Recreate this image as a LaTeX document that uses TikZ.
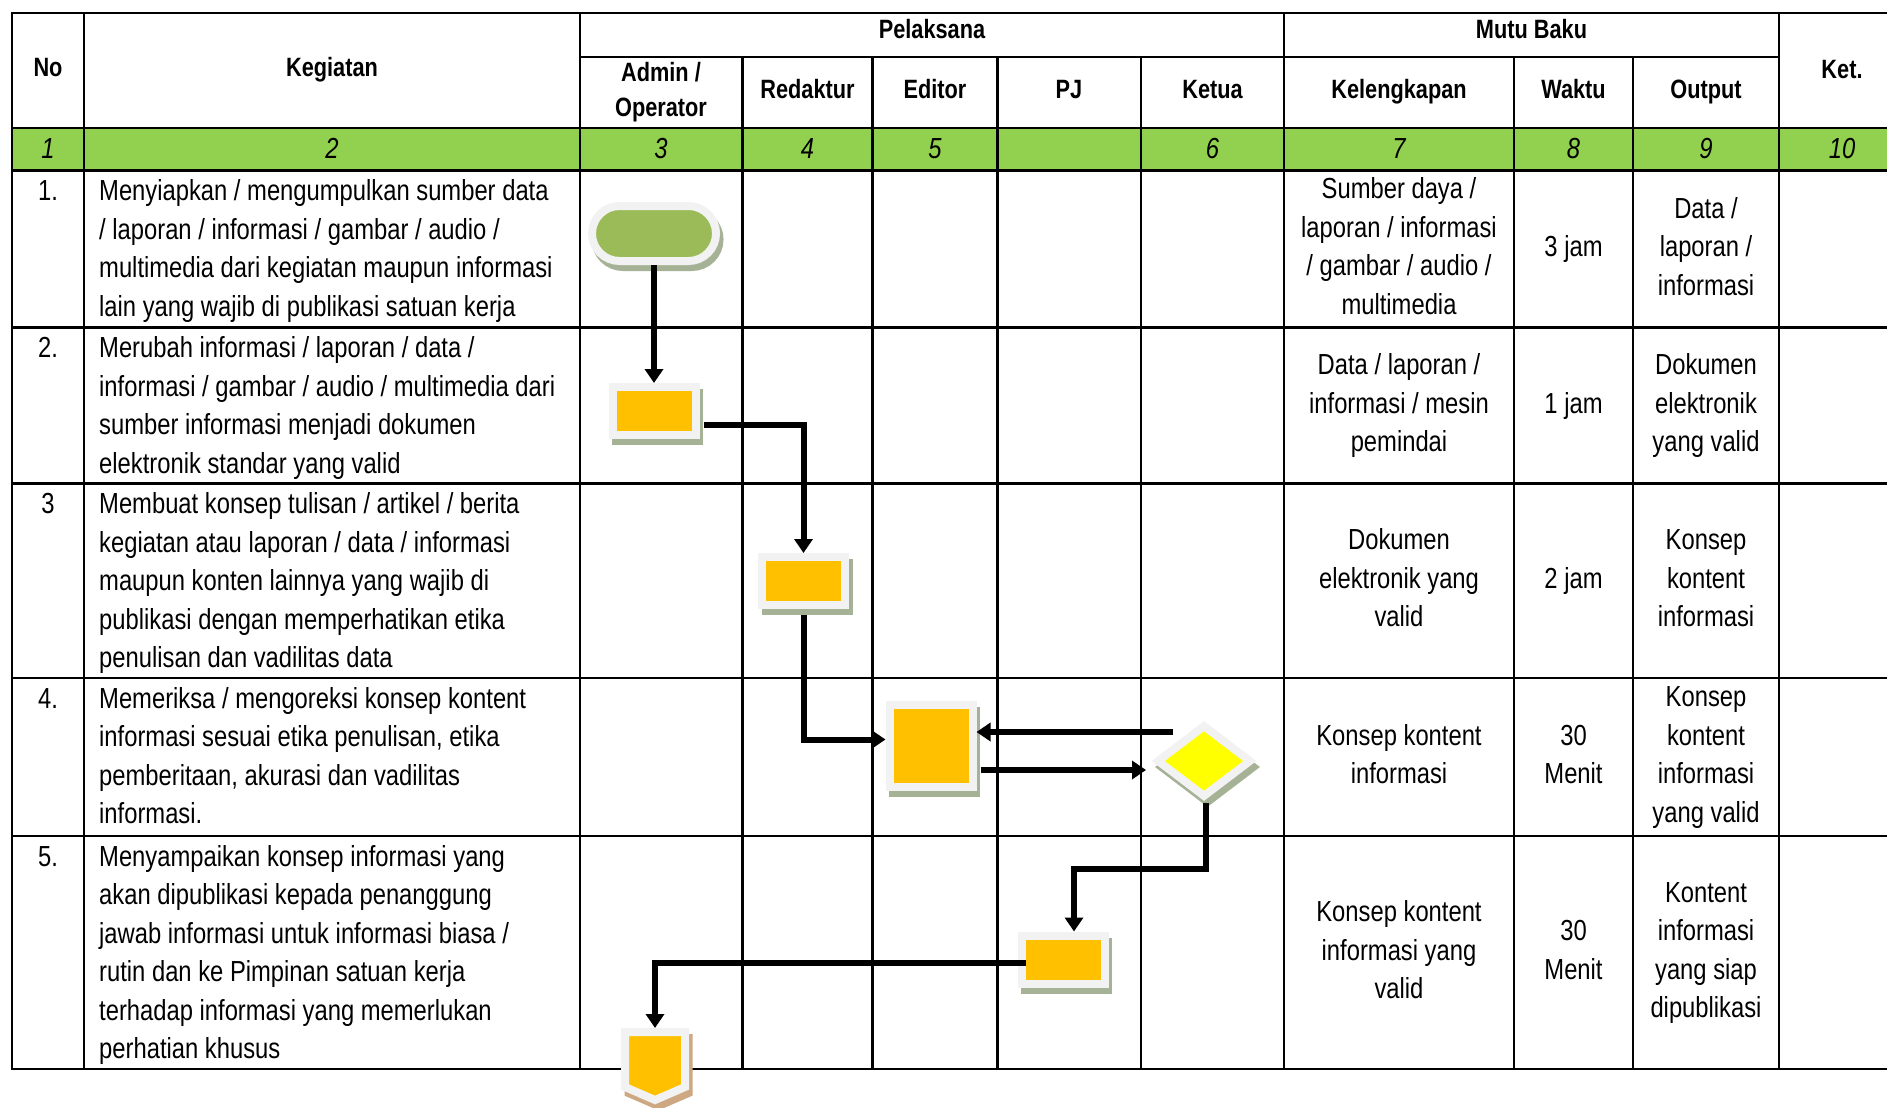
\documentclass[tikz,border=0pt]{standalone}
\usepackage{fontspec}
\setmainfont{Liberation Sans}[FakeStretch=0.82]
\usetikzlibrary{shapes.geometric,shapes.misc,arrows.meta,calc}
\definecolor{tgreen}{HTML}{92D050}
\definecolor{lgrey}{HTML}{F2F2F2}
\definecolor{shd}{HTML}{A6B295}
\definecolor{shdb}{HTML}{CDA882}
\definecolor{torange}{HTML}{FFC000}
\definecolor{tyellow}{HTML}{FFFF00}
\definecolor{tolive}{HTML}{9BBB59}
\begin{document}
\begin{tikzpicture}[x=1pt,y=-1pt,
  grid/.style={line width=2.1pt, line cap=rect},
  hdr/.style={font=\fontsize{26.5}{35}\selectfont\bfseries, align=center, inner sep=0},
  body/.style={font=\fontsize{29}{38.5}\selectfont, align=left, inner sep=0, anchor=north west},
  cell/.style={font=\fontsize{29}{38.5}\selectfont, align=center, inner sep=0},
  num/.style={font=\fontsize{29}{38.5}\selectfont\itshape, inner sep=0, anchor=base},
  frame/.style={draw=lgrey, line width=8pt, outer sep=4pt,
    preaction={draw=shd, fill=shd, line width=8pt, transform canvas={xshift=3.5pt, yshift=-6pt}}},
  proc/.style={frame, rectangle, fill=torange, inner sep=0},
  term/.style={frame, rounded rectangle, fill=tolive, inner sep=0},
  dec/.style={frame, diamond, fill=tyellow, inner sep=0},
  offp/.style={draw=lgrey, line width=8pt, fill=torange,
    preaction={draw=shdb, fill=shdb, line width=8pt, transform canvas={xshift=3.5pt, yshift=-6pt}}},
  arr/.style={line width=6pt, -{Triangle[width=18pt,length=14pt]}}
]
\useasboundingbox (0,0) rectangle (1887,1108);
% table
\fill[tgreen] (12,128) rectangle (1887,170.5);
\draw[grid] (12,13) -- (1887,13);
\draw[grid] (580,57) -- (1779,57);
\foreach \yy in {128,170.5,327.5,483.5,678,836,1069} \draw[grid] (12,\yy) -- (1887,\yy);
\foreach \xx in {12,84,580,1284,1779} \draw[grid] (\xx,13) -- (\xx,1069);
\foreach \xx in {742.5,872.5,997.5,1141,1514,1633} \draw[grid] (\xx,57) -- (\xx,1069);
% headers
\node[hdr, anchor=base] (hno) at (48,77) {No};
\node[hdr, anchor=base] (hkeg) at (332,77) {Kegiatan};
\node[hdr, anchor=base] (hpel) at (932,39) {Pelaksana};
\node[hdr, anchor=base] (hmutu) at (1531.5,39) {Mutu Baku};
\node[hdr] (hadm) at (661,92) {Admin /\\Operator};
\node[hdr, anchor=base] (hred) at (807.5,99) {Redaktur};
\node[hdr, anchor=base] (hedi) at (935,99) {Editor};
\node[hdr, anchor=base] (hpj) at (1069,99) {PJ};
\node[hdr, anchor=base] (hket) at (1212.5,99) {Ketua};
\node[hdr, anchor=base] (hkel) at (1399,99) {Kelengkapan};
\node[hdr, anchor=base] (hwak) at (1573.5,99) {Waktu};
\node[hdr, anchor=base] (hout) at (1706,99) {Output};
\node[hdr, anchor=base] (hketr) at (1842,78) {Ket.};
% column numbers
\node[num] (c1) at (48,158) {1};
\node[num] (c2) at (332,158) {2};
\node[num] (c3) at (661,158) {3};
\node[num] (c4) at (807.5,158) {4};
\node[num] (c5) at (935,158) {5};
\node[num] (c6) at (1212.5,158) {6};
\node[num] (c7) at (1399,158) {7};
\node[num] (c8) at (1573.5,158) {8};
\node[num] (c9) at (1706,158) {9};
\node[num] (c10) at (1842,158) {10};
% row numbers
\node[cell, anchor=base] (r1n) at (48,200.5) {1.};
\node[cell, anchor=base] (r2n) at (48,357.5) {2.};
\node[cell, anchor=base] (r3n) at (48,513.5) {3};
\node[cell, anchor=base] (r4n) at (48,708) {4.};
\node[cell, anchor=base] (r5n) at (48,866) {5.};
% kegiatan
\node[body] (k1) at (99,173.5) {\strut Menyiapkan / mengumpulkan sumber data\\/ laporan / informasi / gambar / audio /\\multimedia dari kegiatan maupun informasi\\lain yang wajib di publikasi satuan kerja};
\node[body] (k2) at (99,330.5) {\strut Merubah informasi / laporan / data /\\informasi / gambar / audio / multimedia dari\\sumber informasi menjadi dokumen\\elektronik standar yang valid};
\node[body] (k3) at (99,486.5) {\strut Membuat konsep tulisan / artikel / berita\\kegiatan atau laporan / data / informasi\\maupun konten lainnya yang wajib di\\publikasi dengan memperhatikan etika\\penulisan dan vadilitas data};
\node[body] (k4) at (99,681) {\strut Memeriksa / mengoreksi konsep kontent\\informasi sesuai etika penulisan, etika\\pemberitaan, akurasi dan vadilitas\\informasi.};
\node[body] (k5) at (99,839) {\strut Menyampaikan konsep informasi yang\\akan dipublikasi kepada penanggung\\jawab informasi untuk informasi biasa /\\rutin dan ke Pimpinan satuan kerja\\terhadap informasi yang memerlukan\\perhatian khusus};
% mutu baku
\node[cell] (m1a) at (1399,249) {\strut Sumber daya /\\laporan / informasi\\/ gambar / audio /\\multimedia\strut};
\node[cell] (m1b) at (1573.5,249) {\strut 3 jam\strut};
\node[cell] (m1c) at (1706,249) {\strut Data /\\laporan /\\informasi\strut};
\node[cell] (m2a) at (1399,405.5) {\strut Data / laporan /\\informasi / mesin\\pemindai\strut};
\node[cell] (m2b) at (1573.5,405.5) {\strut 1 jam\strut};
\node[cell] (m2c) at (1706,405.5) {\strut Dokumen\\elektronik\\yang valid\strut};
\node[cell] (m3a) at (1399,580.75) {\strut Dokumen\\elektronik yang\\valid\strut};
\node[cell] (m3b) at (1573.5,580.75) {\strut 2 jam\strut};
\node[cell] (m3c) at (1706,580.75) {\strut Konsep\\kontent\\informasi\strut};
\node[cell] (m4a) at (1399,757) {\strut Konsep kontent\\informasi\strut};
\node[cell] (m4b) at (1573.5,757) {\strut 30\\Menit\strut};
\node[cell] (m4c) at (1706,757) {\strut Konsep\\kontent\\informasi\\yang valid\strut};
\node[cell] (m5a) at (1399,952.5) {\strut Konsep kontent\\informasi yang\\valid\strut};
\node[cell] (m5b) at (1573.5,952.5) {\strut 30\\Menit\strut};
\node[cell] (m5c) at (1706,952.5) {\strut Kontent\\informasi\\yang siap\\dipublikasi\strut};
% flow shapes
\node[term, minimum width=124pt, minimum height=55pt] (t1) at (654,233.5) {};
\node[proc, minimum width=83pt, minimum height=48pt] (b1) at (654,411) {};
\node[proc, minimum width=83pt, minimum height=48pt] (b2) at (803.5,581) {};
\node[proc, minimum width=83pt, minimum height=82pt] (b3) at (931,746) {};
\node[dec, minimum width=95pt, minimum height=73pt] (d) at (1204,761) {};
\node[proc, minimum width=83pt, minimum height=48pt] (b4) at (1063,959.5) {};
\node[inner sep=0, outer sep=0, minimum width=60pt, minimum height=68pt] (op) at (655,1066) {};
\draw[offp] (op.north west) -- (op.north east) -- ($(op.south east)+(0,-13)$) -- (op.south) -- ($(op.south west)+(0,-13)$) -- cycle;
% connectors
\draw[arr] (t1.south) -- (b1.north);
\draw[arr] ($(b1.east)+(4,14)$) -| (b2.north);
\draw[arr] ($(b2.south)+(0,6)$) |- ($(b3.west)+(0,-6.5)$);
\draw[arr] ($(d.center)+(-31,-29)$) -- ($(b3.east)+(0,-14)$);
\draw[arr] ($(b3.east)+(4,24)$) -- ($(d.center)+(-58,9)$);
\draw[arr] ($(d.center)+(1.5,42)$) -- ($(d.center)+(1.5,108)$) -| ($(b4.north)+(11,0)$);
\draw[arr] ($(b4.west)+(8,3)$) -| ($(op.north)+(0,-4)$);
\end{tikzpicture}
\end{document}
